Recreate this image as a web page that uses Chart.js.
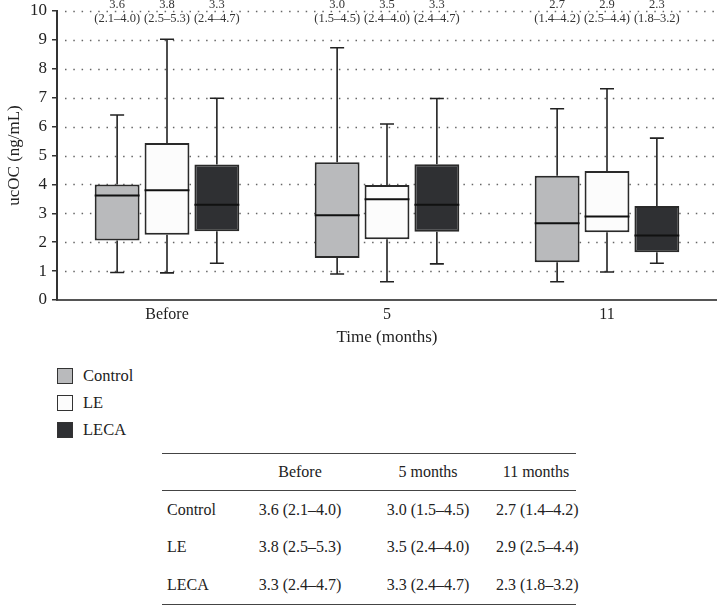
<!DOCTYPE html>
<html>
<head>
<meta charset="utf-8">
<script src="https://cdn.jsdelivr.net/npm/chart.js@4.4.1/dist/chart.umd.min.js"></script>
<style>
  body { margin: 0; background: #fff; font-family: "Liberation Serif", serif; color: #222; }
  #page { position: relative; width: 717px; height: 607px; }
  #chart-wrap { position: absolute; left: 0; top: 0; width: 717px; height: 350px; }
  #legend { position: absolute; left: 57px; top: 367px; margin: 0; padding: 0; list-style: none; font-family: "Liberation Serif", serif; }
  #legend li { display: flex; align-items: center; height: 18px; margin-bottom: 9px; font-size: 16.5px; }
  .legend-swatch { width: 14px; height: 14px; border: 1.5px solid #333; margin-right: 10px; }
  #summary { position: absolute; left: 162px; top: 453px; width: 414px; table-layout: fixed; border-collapse: collapse; font-family: "Liberation Serif", serif; font-size: 16px; }
  #summary th, #summary td { padding: 0; white-space: nowrap; text-align: center; }
  #summary th { font-weight: normal; height: 36px; border-bottom: 1.5px solid #444; }
  #summary td { height: 37.5px; }
  #summary td:first-child { text-align: left; padding-left: 5px; }
  #summary thead tr { border-top: 1.5px solid #444; }
  #summary tbody tr:last-child { border-bottom: 1.5px solid #444; }
</style>
</head>
<body>
<div id="page">
  <div id="chart-wrap"><canvas id="chart"></canvas></div>
  <ul id="legend"></ul>
  <table id="summary">
    <thead><tr id="summary-head"></tr></thead>
    <tbody id="summary-body"></tbody>
  </table>
</div>
<script>
const timepoints = ['Before', '5', '11'];
const tableHeaders = ['Before', '5 months', '11 months'];
const groups = ['Control', 'LE', 'LECA'];
const groupColors = ['#b9babc', '#fcfcfc', '#2f3033'];

// [min, q1, median, q3, max] per timepoint
const controlStats = [[0.95, 2.06, 3.62, 4.0, 6.4], [0.9, 1.45, 2.93, 4.77, 8.73], [0.63, 1.31, 2.66, 4.3, 6.62]];
const leStats = [[0.94, 2.26, 3.8, 5.43, 9.02], [0.63, 2.1, 3.49, 3.98, 6.09], [0.97, 2.34, 2.89, 4.46, 7.31]];
const lecaStats = [[1.27, 2.38, 3.3, 4.69, 6.98], [1.25, 2.36, 3.3, 4.7, 6.97], [1.27, 1.65, 2.23, 3.25, 5.6]];

// reported median (IQR)
const controlReported = [[3.6, 2.1, 4.0], [3.0, 1.5, 4.5], [2.7, 1.4, 4.2]];
const leReported = [[3.8, 2.5, 5.3], [3.5, 2.4, 4.0], [2.9, 2.5, 4.4]];
const lecaReported = [[3.3, 2.4, 4.7], [3.3, 2.4, 4.7], [2.3, 1.8, 3.2]];

const yTicks = [0, 1, 2, 3, 4, 5, 6, 7, 8, 9, 10];

const allStats = [controlStats, leStats, lecaStats];
const allReported = [controlReported, leReported, lecaReported];
const serif = '"Liberation Serif", serif';

function iqrText(r) {
  return '(' + r[1].toFixed(1) + '\u2013' + r[2].toFixed(1) + ')';
}

const dottedGrid = {
  id: 'dottedGrid',
  beforeDatasetsDraw(chart) {
    const { ctx, chartArea, scales: { y } } = chart;
    ctx.save();
    ctx.strokeStyle = '#666';
    ctx.lineWidth = 1.5;
    ctx.setLineDash([1.5, 6.8]);
    for (const v of yTicks) {
      if (v === 0) continue;
      const py = Math.round(y.getPixelForValue(v)) + 0.5;
      ctx.beginPath();
      ctx.moveTo(chartArea.left + 8, py);
      ctx.lineTo(chartArea.right, py);
      ctx.stroke();
    }
    ctx.restore();
  },
};

const boxWhiskers = {
  id: 'boxWhiskers',
  afterDatasetsDraw(chart) {
    const { ctx, chartArea, scales: { y } } = chart;
    chart.data.datasets.forEach((ds, i) => {
      const meta = chart.getDatasetMeta(i);
      meta.data.forEach((bar, j) => {
        const [lo, q1, med, q3, hi] = allStats[i][j];
        const x = bar.x;
        const half = bar.width / 2;
        const cap = 7;
        ctx.save();
        ctx.strokeStyle = '#222';
        ctx.lineWidth = 1.6;
        ctx.beginPath();
        ctx.moveTo(x, y.getPixelForValue(q3));
        ctx.lineTo(x, y.getPixelForValue(hi));
        ctx.moveTo(x - cap, y.getPixelForValue(hi));
        ctx.lineTo(x + cap, y.getPixelForValue(hi));
        ctx.moveTo(x, y.getPixelForValue(q1));
        ctx.lineTo(x, y.getPixelForValue(lo));
        ctx.moveTo(x - cap, y.getPixelForValue(lo));
        ctx.lineTo(x + cap, y.getPixelForValue(lo));
        ctx.stroke();
        ctx.lineWidth = 2;
        ctx.strokeStyle = '#111';
        ctx.beginPath();
        ctx.moveTo(x - half, y.getPixelForValue(med));
        ctx.lineTo(x + half, y.getPixelForValue(med));
        ctx.stroke();

        const r = allReported[i][j];
        ctx.fillStyle = '#333';
        ctx.font = '12.5px ' + serif;
        ctx.textAlign = 'center';
        ctx.textBaseline = 'middle';
        ctx.fillText(r[0].toFixed(1), x, chartArea.top - 6);
        ctx.fillText(iqrText(r), x, chartArea.top + 8);
        ctx.restore();
      });
    });
  },
};

const datasets = groups.map((name, i) => ({
  label: name,
  data: allStats[i].map((s) => [s[1], s[3]]),
  backgroundColor: groupColors[i],
  borderColor: '#2a2a2a',
  borderWidth: 2,
  borderSkipped: false,
  categoryPercentage: 0.68,
  barPercentage: 0.9,
}));

new Chart(document.getElementById('chart'), {
  type: 'bar',
  data: { labels: timepoints, datasets },
  options: {
    responsive: true,
    maintainAspectRatio: false,
    animation: false,
    layout: { padding: { top: 11, left: 4, right: 0, bottom: 0 } },
    plugins: { legend: { display: false }, tooltip: { enabled: false } },
    scales: {
      x: {
        grid: { display: false, drawTicks: false },
        border: { display: true, color: '#555', width: 2 },
        ticks: { color: '#222', font: { family: serif, size: 16 }, padding: 5 },
        title: { display: true, text: 'Time (months)', color: '#222', font: { family: serif, size: 17 }, padding: { top: 2, bottom: 2 } },
        afterFit: (s) => { s.height = 50; },
      },
      y: {
        min: 0,
        max: 10,
        afterBuildTicks: (s) => { s.ticks = yTicks.map((v) => ({ value: v })); },
        grid: { drawOnChartArea: false, drawTicks: true, tickLength: 5, color: '#333', lineWidth: 1.5 },
        border: { display: true, color: '#333', width: 2 },
        ticks: { color: '#222', font: { family: serif, size: 17 }, padding: 5 },
        title: { display: true, text: 'ucOC (ng/mL)', color: '#222', font: { family: serif, size: 17 }, padding: { top: 0, bottom: 4 } },
        afterFit: (s) => { s.width = 53; s.paddingTop = 0; s.paddingBottom = 0; },
      },
    },
  },
  plugins: [dottedGrid, boxWhiskers],
});

function renderLegend() {
  const el = document.getElementById('legend');
  groups.forEach((name, i) => {
    const li = document.createElement('li');
    const swatch = document.createElement('span');
    swatch.className = 'legend-swatch';
    swatch.style.backgroundColor = groupColors[i];
    const label = document.createElement('span');
    label.textContent = name;
    li.append(swatch, label);
    el.appendChild(li);
  });
}

function renderTable() {
  const head = document.getElementById('summary-head');
  const widths = [78, 120, 136, 80];
  ['', ...tableHeaders].forEach((h, k) => {
    const th = document.createElement('th');
    th.textContent = h;
    th.style.width = widths[k] + 'px';
    head.appendChild(th);
  });
  const body = document.getElementById('summary-body');
  groups.forEach((name, i) => {
    const tr = document.createElement('tr');
    const first = document.createElement('td');
    first.textContent = name;
    tr.appendChild(first);
    for (const r of allReported[i]) {
      const td = document.createElement('td');
      td.textContent = r[0].toFixed(1) + ' ' + iqrText(r);
      tr.appendChild(td);
    }
    body.appendChild(tr);
  });
}

renderLegend();
renderTable();
</script>
</body>
</html>
